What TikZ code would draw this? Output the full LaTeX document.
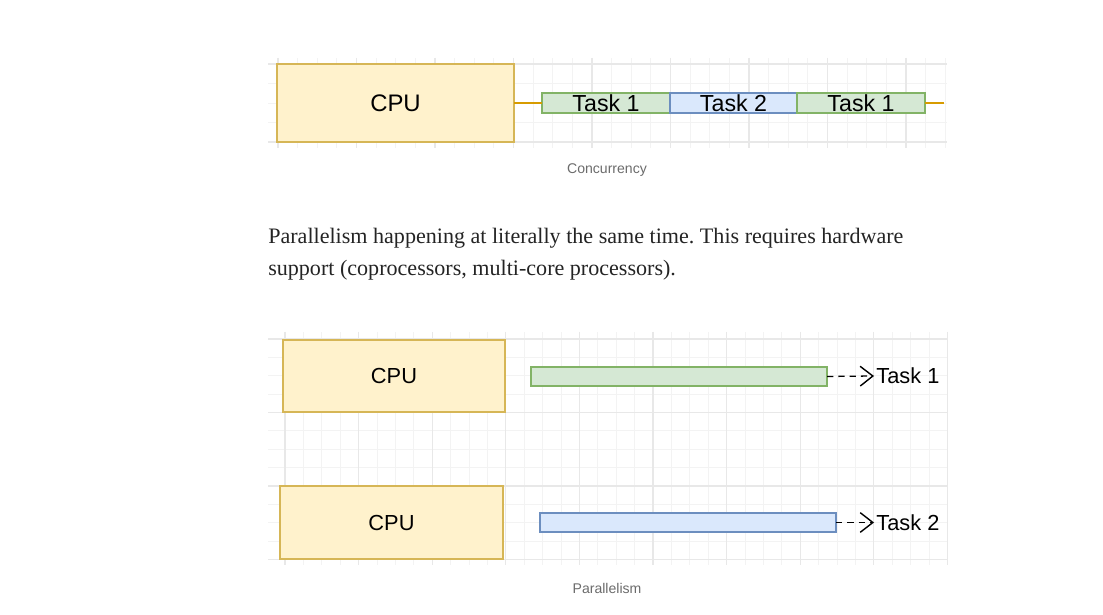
\documentclass[tikz,border=0pt]{standalone}
\usepackage{fontspec}
\setmainfont{Liberation Serif}
\newfontfamily\diagfont{Liberation Sans}
\usetikzlibrary{arrows.meta,positioning}

\newdimen\pxu \pxu=0.025cm

\definecolor{cpufill}{HTML}{FFF2CC}
\definecolor{cpuline}{HTML}{D6B656}
\definecolor{greenfill}{HTML}{D5E8D4}
\definecolor{greenline}{HTML}{82B366}
\definecolor{bluefill}{HTML}{DAE8FC}
\definecolor{blueline}{HTML}{6C8EBF}
\definecolor{wireline}{HTML}{D79B00}
\definecolor{gridmajor}{HTML}{E8E8E8}
\definecolor{gridminor}{HTML}{F3F3F3}
\definecolor{bodytext}{HTML}{242424}
\definecolor{captext}{HTML}{6B6B6B}

\frenchspacing

\begin{document}
\begin{tikzpicture}[
    x=0.025cm, y=-0.025cm,
    minorgrid/.style={gridminor, line width=0.6pt},
    majorgrid/.style={gridmajor, line width=0.8pt},
    cpubox/.style={rectangle, draw=cpuline, fill=cpufill, line width=1.3pt,
                   inner sep=0pt, outer sep=0pt, text=black},
    taskbox/.style={rectangle, line width=1.3pt, inner sep=0pt, outer sep=0pt,
                    minimum height=20\pxu, text=black,
                    font=\diagfont\fontsize{16.5}{18}\selectfont},
    greentask/.style={taskbox, draw=greenline, fill=greenfill},
    bluetask/.style={taskbox, draw=blueline, fill=bluefill},
    wire/.style={wireline, line width=1.3pt},
    taskarrow/.style={dashed, dash pattern=on 4.5pt off 3.5pt, line width=0.9pt,
                      -{Straight Barb[length=9pt, width=14pt, line width=1pt]}},
    tasklabel/.style={anchor=west, inner sep=1.5pt,
                      font=\diagfont\fontsize{15.5}{17}\selectfont},
    caption/.style={font=\diagfont\fontsize{10}{12}\selectfont, text=captext},
    bodypara/.style={anchor=base west, inner sep=0pt, text=bodytext,
                     font=\fontsize{15.7}{19}\selectfont}
]
\useasboundingbox (0,0) rectangle (1103,615);

% Concurrency grid
\foreach \k in {0,...,34} {
    \draw[minorgrid] ({278+\k*19.625},58) -- ({278+\k*19.625},148);
}
\foreach \k in {0,...,4} {
    \draw[minorgrid] (268,{64+\k*19.5}) -- (947,{64+\k*19.5});
}
\foreach \k in {0,...,8} {
    \draw[majorgrid] ({278+\k*78.5},58) -- ({278+\k*78.5},148);
}
\draw[majorgrid] (268,64) -- (947,64);
\draw[majorgrid] (268,142) -- (947,142);

% Concurrency
\node[cpubox, minimum width=237\pxu, minimum height=78\pxu,
      font=\diagfont\fontsize{17}{19}\selectfont] (cpu) at (395.5,103) {CPU};
\node[greentask, minimum width=128\pxu] (task1a) at (606,103) {Task 1};
\node[bluetask, minimum width=127\pxu, right=0pt of task1a] (task2) {Task 2};
\node[greentask, minimum width=128\pxu, right=0pt of task2] (task1b) {Task 1};
\coordinate (wireend) at (944,103);

\draw[wire] (cpu.east) -- (task1a.west);
\draw[wire] (task1b.east) -- (wireend);

\node[caption] (capconc) at (607,170) {Concurrency};

% Text
\node[bodypara] (para1) at (268,244) {Parallelism happening at literally the same time. This requires hardware};
\node[bodypara] (para2) at (268,276) {support (coprocessors, multi-core processors).};

% Parallelism grid
\foreach \k in {0,...,36} {
    \draw[minorgrid] ({285+\k*18.4},332) -- ({285+\k*18.4},565);
}
\foreach \k in {0,...,12} {
    \draw[minorgrid] (268,{339+\k*18.375}) -- (947,{339+\k*18.375});
}
\foreach \k in {0,...,9} {
    \draw[majorgrid] ({285+\k*73.6},332) -- ({285+\k*73.6},565);
}
\foreach \k in {0,...,3} {
    \draw[majorgrid] (268,{339+\k*73.5}) -- (947,{339+\k*73.5});
}

% Parallelism
\node[cpubox, minimum width=222\pxu, minimum height=72\pxu,
      font=\diagfont\fontsize{15.5}{18}\selectfont] (cpu1) at (394,376) {CPU};
\node[cpubox, minimum width=223\pxu, minimum height=73\pxu,
      font=\diagfont\fontsize{15.5}{18}\selectfont] (cpu2) at (391.5,522.5) {CPU};

\node[greentask, minimum width=296\pxu, minimum height=19\pxu] (bar1) at (679,376.5) {};
\node[bluetask, minimum width=296\pxu, minimum height=19\pxu] (bar2) at (688,522.5) {};

\node[tasklabel] (label1) at (874,376) {Task 1};
\node[tasklabel] (label2) at (874,522.5) {Task 2};

\draw[taskarrow] (bar1.east) -- (label1.west);
\draw[taskarrow] (bar2.east) -- (label2.west);

\node[caption] (cappar) at (607,588) {Parallelism};

\end{tikzpicture}
\end{document}
